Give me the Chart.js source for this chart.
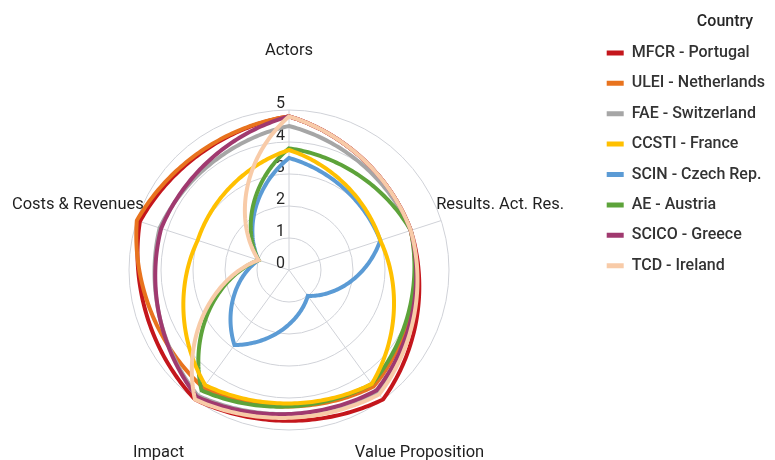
<!DOCTYPE html>
<html>
<head>
<meta charset="utf-8">
<script src="https://cdn.jsdelivr.net/npm/chart.js@4.4.1/dist/chart.umd.min.js"></script>
<style>
html,body{margin:0;padding:0;background:#fff;}
#wrap{width:775px;height:460px;position:relative;}
</style>
</head>
<body>
<div id="wrap"><canvas id="c"></canvas></div>
<script>
// ---- data ----
const categories = ['Actors', 'Results. Act. Res.', 'Value Proposition', 'Impact', 'Costs & Revenues'];
const countries = ['MFCR - Portugal', 'ULEI - Netherlands', 'FAE - Switzerland', 'CCSTI - France',
                   'SCIN - Czech Rep.', 'AE - Austria', 'SCICO - Greece', 'TCD - Ireland'];
const mfcr  = [4.8, 4.0, 5.0, 5.0, 4.9];
const ulei  = [4.8, 4.0, 4.5, 4.55, 5.0];
const fae   = [4.5, 4.0, 4.7, 4.85, 4.25];
const ccsti = [3.75, 3.0, 4.4, 4.45, 3.0];
const scin  = [3.5, 3.0, 1.0, 2.9, 1.0];
const ae    = [3.8, 4.0, 4.4, 4.65, 1.0];
const scico = [4.8, 4.0, 4.65, 4.9, 4.2];
const tcd   = [4.8, 4.0, 4.8, 5.0, 1.0];
const tickValues = [0, 1, 2, 3, 4, 5];
const tickLabels = ['0', '1', '2', '3', '4', '5'];

// ---- styles ----
const colors = ['#C4161C', '#E8731E', '#A6A6A6', '#FFC000', '#5B9BD5', '#5DA33A', '#A0396F', '#F8CBA8'];
const drawOrder = [7, 6, 5, 2, 4, 3, 1, 0]; // higher = drawn first (below)
const seriesValues = [mfcr, ulei, fae, ccsti, scin, ae, scico, tcd];
const FONT = 'Roboto';
const CURVE = 0.7; // how strongly each edge follows the polar (constant-angle-rate) path

const datasets = countries.map((name, i) => ({
  label: name,
  data: seriesValues[i],
  borderColor: colors[i],
  backgroundColor: colors[i],
  borderWidth: 4,
  pointRadius: 0,
  pointHoverRadius: 0,
  fill: false,
  order: drawOrder[i]
}));

// Each edge is drawn as a curve between the straight chord and the polar path,
// using the radial scale's own mapping functions.
const polarPathPlugin = {
  id: 'polarPath',
  beforeDatasetsDraw(chart) {
    const s = chart.scales.r;
    const ctx = chart.ctx;
    ctx.save();
    ctx.font = '16px ' + FONT;
    ctx.fillStyle = '#262626';
    ctx.textAlign = 'right';
    ctx.textBaseline = 'middle';
    tickValues.forEach((v, i) => {
      const d = s.getDistanceFromCenterForValue(v);
      ctx.fillText(tickLabels[i], s.xCenter - 4, s.yCenter - d - 6);
    });
    ctx.restore();
  },
  beforeDatasetDraw(chart, args) {
    const s = chart.scales.r;
    const ctx = chart.ctx;
    const ds = chart.data.datasets[args.index];
    const vals = ds.data;
    const n = vals.length;
    const steps = 60;
    ctx.save();
    ctx.beginPath();
    for (let i = 0; i < n; i++) {
      const a = vals[i], b = vals[(i + 1) % n];
      const A = s.getPointPosition(i, s.getDistanceFromCenterForValue(a));
      const B = s.getPointPosition(i + 1, s.getDistanceFromCenterForValue(b));
      for (let k = 0; k < steps; k++) {
        const t = k / steps;
        const p = s.getPointPosition(i + t, s.getDistanceFromCenterForValue(a + (b - a) * t));
        const x = CURVE * p.x + (1 - CURVE) * (A.x + (B.x - A.x) * t);
        const y = CURVE * p.y + (1 - CURVE) * (A.y + (B.y - A.y) * t);
        if (i === 0 && k === 0) ctx.moveTo(x, y); else ctx.lineTo(x, y);
      }
    }
    ctx.closePath();
    ctx.strokeStyle = ds.borderColor;
    ctx.lineWidth = ds.borderWidth;
    ctx.lineJoin = 'miter';
    ctx.miterLimit = 10;
    ctx.stroke();
    ctx.restore();
    return false;
  },
  afterDraw(chart) {
    const s = chart.scales.r;
    const ctx = chart.ctx;
    ctx.save();
    ctx.font = '16.5px ' + FONT;
    ctx.fillStyle = '#1f1f1f';
    ctx.textAlign = 'center';
    ctx.textBaseline = 'middle';
    categories.forEach((c, i) => {
      const p = s.getPointPosition(i, s.drawingArea + 62);
      ctx.fillText(c, p.x, p.y + 3);
    });
    // legend title
    ctx.font = '500 16px ' + FONT;
    ctx.fillStyle = '#262626';
    ctx.fillText('Country', 725, 22);
    ctx.restore();
  }
};

new Chart(document.getElementById('c'), {
  type: 'radar',
  data: { labels: categories, datasets: datasets },
  options: {
    responsive: true,
    maintainAspectRatio: false,
    animation: false,
    devicePixelRatio: 1,
    layout: { padding: { top: 30.5, right: 0, left: 0, bottom: 0 } },
    plugins: {
      tooltip: { enabled: false },
      legend: {
        position: 'right',
        align: 'start',
        labels: {
          boxWidth: 17,
          boxHeight: 5,
          padding: 14.4,
          color: '#333333',
          font: { family: FONT, size: 16, weight: '500' },
          sort: (a, b) => a.datasetIndex - b.datasetIndex,
          generateLabels(chart) {
            const items = Chart.defaults.plugins.legend.labels.generateLabels(chart);
            items.forEach(it => { it.lineWidth = 0; it.fillStyle = it.strokeStyle; });
            return items;
          }
        }
      }
    },
    scales: {
      r: {
        min: 0,
        max: 5,
        ticks: { display: false, stepSize: 1 },
        grid: { circular: true, color: '#d0d2d8', lineWidth: 1 },
        angleLines: { color: '#d0d2d8', lineWidth: 1 },
        pointLabels: { display: false },
        afterFit(scale) {
          scale.xCenter = 289;
          scale.yCenter = 270;
          scale.drawingArea = 160;
        }
      }
    }
  },
  plugins: [polarPathPlugin]
});
</script>
</body>
</html>
